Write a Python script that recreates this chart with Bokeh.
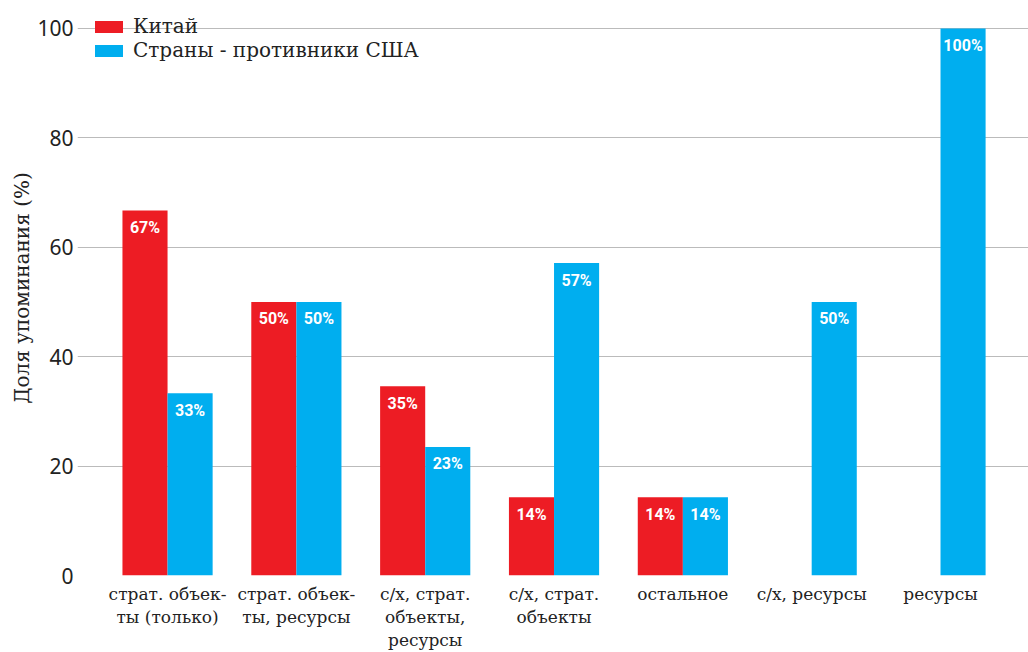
from bokeh.plotting import figure
from bokeh.models import ColumnDataSource, FixedTicker, Range1d, Legend
from bokeh.core.properties import value
from bokeh.embed import file_html
from bokeh.resources import INLINE

categories = [
    "страт. объек-\nты (только)",
    "страт. объек-\nты, ресурсы",
    "с/х, страт.\nобъекты,\nресурсы",
    "с/х, страт.\nобъекты",
    "остальное",
    "с/х, ресурсы",
    "ресурсы",
]
china = [66.7, 50.0, 34.6, 14.3, 14.3, 0, 0]
rivals = [33.3, 50.0, 23.5, 57.1, 14.3, 50.0, 100.0]
china_labels = ["67%", "50%", "35%", "14%", "14%", "", ""]
rivals_labels = ["33%", "50%", "23%", "57%", "14%", "50%", "100%"]
yticks = [0, 20, 40, 60, 80, 100]

RED = "#ED1C24"
BLUE = "#00AEEF"

xs = list(range(len(categories)))
bw = 0.35
src_c = ColumnDataSource(dict(x=[i - bw / 2 for i in xs], top=china, lab=china_labels))
src_r = ColumnDataSource(dict(x=[i + bw / 2 for i in xs], top=rivals, lab=rivals_labels))

p = figure(width=1028, height=652, output_backend="svg", toolbar_location=None,
           x_range=Range1d(-0.699, 6.683), y_range=Range1d(0, 105.1),
           min_border_left=77, min_border_right=0, min_border_top=0, min_border_bottom=74)
p.outline_line_color = None
p.xgrid.grid_line_color = None
p.ygrid.grid_line_color = "#bbbbbb"
p.ygrid.grid_line_width = 1

rc = p.vbar(x="x", top="top", width=bw, bottom=0, source=src_c, fill_color=RED, line_color=None)
rr = p.vbar(x="x", top="top", width=bw, bottom=0, source=src_r, fill_color=BLUE, line_color=None)

for src in (src_c, src_r):
    p.text(x="x", y="top", text="lab", source=src, text_color="white",
           text_font=value("Roboto"), text_font_style="bold", text_font_size="16px",
           text_align="center", text_baseline="middle", y_offset=17)

p.xaxis.ticker = FixedTicker(ticks=xs)
p.xaxis.major_label_overrides = {i: c for i, c in enumerate(categories)}
p.xaxis.axis_line_color = None
p.xaxis.major_tick_line_color = None
p.xaxis.minor_tick_line_color = None
p.xaxis.major_label_text_font = "DejaVu Serif"
p.xaxis.major_label_text_font_size = "17px"
p.xaxis.major_label_text_color = "#222222"
p.xaxis.major_label_text_line_height = 1.15
p.xaxis.major_label_standoff = 2

p.yaxis.ticker = FixedTicker(ticks=yticks)
p.yaxis.axis_line_color = None
p.yaxis.major_tick_line_color = None
p.yaxis.minor_tick_line_color = None
p.yaxis.major_label_text_font = "Noto Sans"
p.yaxis.major_label_text_font_size = "21px"
p.yaxis.major_label_text_color = "#222222"
p.yaxis.major_label_standoff = -2
p.yaxis.axis_label = "Доля упоминания (%)"
p.yaxis.axis_label_text_font = "DejaVu Serif"
p.yaxis.axis_label_text_font_style = "normal"
p.yaxis.axis_label_text_font_size = "20px"
p.yaxis.axis_label_text_color = "#222222"
p.yaxis.axis_label_standoff = 0

legend = Legend(items=[("Китай", [rc]), ("Страны - противники США", [rr])],
                location=(14, 513), margin=0, padding=0,
                border_line_color=None, background_fill_alpha=0,
                glyph_width=35, glyph_height=15, label_height=20, spacing=0,
                label_standoff=7, label_text_font="DejaVu Serif",
                label_text_font_size="20px", label_text_color="#222222")
p.add_layout(legend)

open("out.html", "w").write(file_html(p, INLINE))
